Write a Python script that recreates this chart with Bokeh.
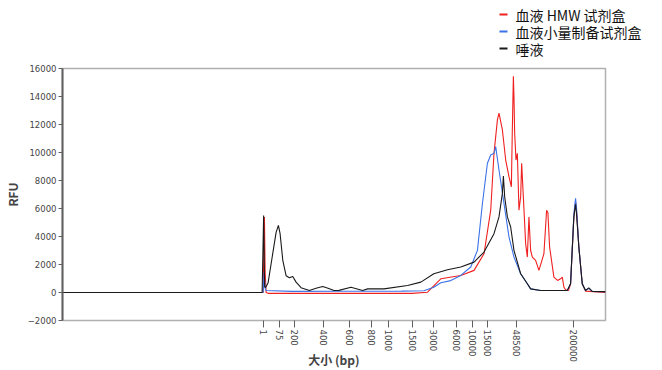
from bokeh.plotting import figure
from bokeh.layouts import column, row
from bokeh.models import FixedTicker, Range1d, Spacer
from bokeh.core.properties import value
from bokeh.embed import file_html
from bokeh.resources import INLINE

# x = migration position (arbitrary units), y = RFU
tick_pos = [201, 217, 232, 261, 288, 310, 327, 351, 372, 395, 411, 426, 455, 512]
tick_labels = ["1", "75", "200", "400", "600", "800", "1000", "1500", "3000",
               "6000", "10000", "15000", "48500", "200000"]

black_x = [0, 200, 201.5, 202.5, 203.5, 206, 210, 214, 216.3, 218, 220.7, 224, 227.3,
           230.7, 234, 239, 247.3, 254, 260.7, 266, 272, 277, 289, 300.7, 305.7, 322,
           345.7, 359, 372, 385.7, 399, 412.3, 422.3, 432.3, 437.3, 440.7, 441.7, 443,
           445.7, 449, 452.3, 459, 465.7, 469, 479, 505.7, 509, 512.3, 514, 515, 517.3,
           520.7, 524, 527.3, 530.7, 544]
black_y = [0, 0, 5500, 400, 350, 700, 2500, 4300, 4800, 4200, 2300, 1200, 1050,
           1150, 740, 340, 140, 300, 430, 300, 140, 150, 380, 140, 260, 260,
           500, 740, 1340, 1630, 1820, 2170, 2890, 4200, 5400, 7080, 8320, 6830,
           5400, 4680, 3010, 1340, 620, 260, 140, 140, 620, 5400, 6300, 5600, 3250,
           620, 140, 330, 80, 60]

blue_x = [0, 201, 201.7, 202, 203, 204, 230, 280, 340, 362, 372, 379, 389, 399, 409,
          415.7, 420.7, 425.7, 429, 432.3, 434, 437.3, 442.3, 447.3, 452.3, 459, 465.7,
          469, 479, 505.7, 509, 512.3, 514, 515, 517.3, 520.7, 524, 527.3, 530.7, 544]
blue_y = [0, 0, 1000, 1450, 300, 140, 80, 90, 100, 120, 380, 700, 850, 1220, 1820,
          3010, 6360, 9230, 9820, 9940, 10420, 8750, 6360, 3970, 2530, 1340, 620,
          260, 140, 140, 620, 5600, 6720, 6000, 3250, 620, 140, 300, 80, 60]

red_x = [0, 201, 201.7, 202.3, 203, 204, 206, 350, 365.7, 379, 399, 412.3, 422.3, 429,
         432.3, 435.7, 437.3, 440.7, 444, 447.3, 449.7, 450.5, 451.7, 452.3, 453, 454.3,
         455.7, 457.3, 459, 460, 461.7, 464, 465.7, 467.3, 469, 470.7, 474, 477.3,
         482.3, 485, 486.3, 488, 492.3, 496, 499, 500.7, 502.3, 504, 507, 509, 512.3,
         514, 515, 517.3, 520.7, 524, 544]
red_y = [0, 0, 3000, 5400, 1500, 0, -60, -60, 20, 980, 1220, 1580, 2770, 5880,
         9940, 12330, 12810, 11610, 9460, 8270, 7550, 11000, 15440, 14000, 11380, 9460,
         9940, 5880, 6830, 9230, 6830, 3490, 2530, 5400, 3000, 2530, 2290, 1580,
         2770, 5880, 5700, 3250, 1100, 860, 980, 1100, 400, 190, 150, 600, 5400,
         6500, 5800, 3250, 620, 100, 0]

series_names = ["血液 HMW 试剂盒", "血液小量制备试剂盒", "唾液"]
series_colors = ["#f02020", "#3a72e8", "#1a1a1a"]

FONT = "Noto Sans CJK SC"

# ---- legend strip: a small figure in pixel units, entries drawn as glyphs ----
LG_W, LG_H = 160, 60
lg = figure(width=LG_W, height=LG_H, output_backend="svg", toolbar_location=None,
            x_axis_location=None, y_axis_location=None,
            x_range=Range1d(0, LG_W), y_range=Range1d(0, LG_H),
            min_border_left=0, min_border_right=0, min_border_top=0, min_border_bottom=0)
lg.outline_line_color = None
lg.xgrid.visible = False
lg.ygrid.visible = False
n = len(series_names)
row_y = [LG_H - 14 - 17 * i for i in range(n)]
lg.segment(x0=[7] * n, y0=row_y, x1=[15] * n, y1=row_y,
           line_color=series_colors, line_width=2)
lg.text(x=[23] * n, y=row_y, text=series_names, text_font=value(FONT),
        text_font_size="14px", text_baseline="middle", text_align="left",
        text_color="#111111")

# ---- main chart ----
p = figure(width=646, height=310, output_backend="svg", toolbar_location=None,
           x_range=Range1d(0, 544), y_range=Range1d(-2000, 16000),
           min_border_left=53, min_border_right=41, min_border_top=8, min_border_bottom=50)

p.xgrid.visible = False
p.ygrid.visible = False
p.outline_line_color = "#b0b0b0"
p.outline_line_width = 1.5

p.line(red_x, red_y, line_color=series_colors[0], line_width=1.1)
p.line(blue_x, blue_y, line_color=series_colors[1], line_width=1.1)
p.line(black_x, black_y, line_color=series_colors[2], line_width=1.1)

p.yaxis.ticker = FixedTicker(ticks=list(range(-2000, 16001, 2000)))
p.yaxis.axis_label = "RFU"
p.yaxis.axis_label_text_font = FONT
p.yaxis.axis_label_text_font_style = "bold"
p.yaxis.axis_label_text_font_size = "12px"
p.yaxis.axis_label_standoff = 4
p.yaxis.major_label_text_font = "DejaVu Sans"
p.yaxis.major_label_text_font_size = "8.5px"
p.yaxis.major_label_text_color = "#444444"
p.yaxis.major_label_standoff = 2
p.yaxis.axis_line_color = "#606060"
p.yaxis.axis_line_width = 2
p.yaxis.major_tick_line_color = "#606060"
p.yaxis.major_tick_out = 4
p.yaxis.major_tick_in = 0
p.yaxis.minor_tick_line_color = None

p.xaxis.ticker = FixedTicker(ticks=tick_pos)
p.xaxis.major_label_overrides = {t: l for t, l in zip(tick_pos, tick_labels)}
p.xaxis.major_label_orientation = "vertical"
p.xaxis.major_label_text_font = "DejaVu Sans"
p.xaxis.major_label_text_font_size = "8.5px"
p.xaxis.major_label_text_color = "#444444"
p.xaxis.major_label_standoff = 2
p.xaxis.axis_line_color = None
p.xaxis.major_tick_line_color = "#606060"
p.xaxis.major_tick_out = 7
p.xaxis.major_tick_in = 0
p.xaxis.minor_tick_line_color = None
p.xaxis.axis_label = "大小 (bp)"
p.xaxis.axis_label_text_font = FONT
p.xaxis.axis_label_text_font_style = "bold"
p.xaxis.axis_label_text_font_size = "12px"
p.xaxis.axis_label_standoff = -14

top = row(Spacer(width=492, height=LG_H), lg, spacing=0)
layout = column(top, p, spacing=0)
open("out.html", "w").write(file_html(layout, INLINE))
